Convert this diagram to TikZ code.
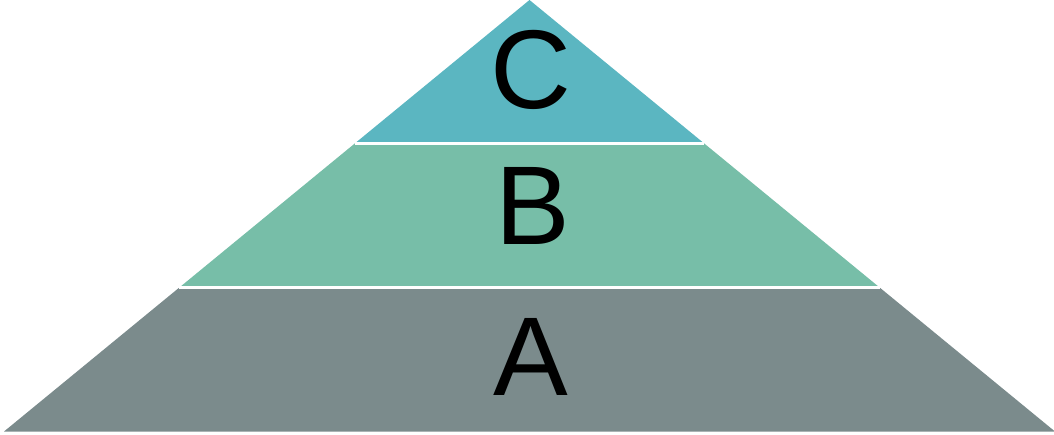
\documentclass[tikz,border=0pt]{standalone}
\usepackage{fontspec}
\setmainfont{Liberation Sans}
\usetikzlibrary{positioning, calc}
\definecolor{cTop}{RGB}{91,182,193}
\definecolor{cMid}{RGB}{119,190,168}
\definecolor{cBase}{RGB}{123,139,140}
\tikzset{
    layer/.style={draw=none},
    sep/.style={draw=white, line width=2.5pt},
    levellabel/.style={font=\fontsize{112}{112}\selectfont, text=black,
        inner sep=0pt, anchor=base},
}

\begin{document}
\begin{tikzpicture}[x=1pt, y=-1pt]

% ============================================================
%  Canvas
% ============================================================
\useasboundingbox (0,0) rectangle (1054,434);

% Apex and base corners of the pyramid
\coordinate (apex)  at (529.5,0);
\coordinate (baseL) at (4,431.5);
\coordinate (baseR) at (1055,431.5);

% Cut heights between the three levels
\coordinate (cutBL) at ($(apex)!143.5/431.5!(baseL)$);
\coordinate (cutBR) at ($(apex)!143.5/431.5!(baseR)$);
\coordinate (cutAL) at ($(apex)!287.5/431.5!(baseL)$);
\coordinate (cutAR) at ($(apex)!287.5/431.5!(baseR)$);

% ============================================================
%  Levels (bottom to top)
% ============================================================
\fill[layer, cBase] (cutAL) -- (cutAR) -- (baseR) -- (baseL) -- cycle;
\fill[layer, cMid]  (cutBL) -- (cutBR) -- (cutAR) -- (cutAL) -- cycle;
\fill[layer, cTop]  (apex) -- (cutBR) -- (cutBL) -- cycle;

% White gaps between the levels
\draw[sep] (cutBL) -- (cutBR);
\draw[sep] (cutAL) -- (cutAR);

% ============================================================
%  Labels
% ============================================================
\node[levellabel] (lblC) at (531,108) {C};
\node[levellabel] (lblB) at (533,244) {B};
\node[levellabel] (lblA) at (531,395) {A};

\end{tikzpicture}
\end{document}
